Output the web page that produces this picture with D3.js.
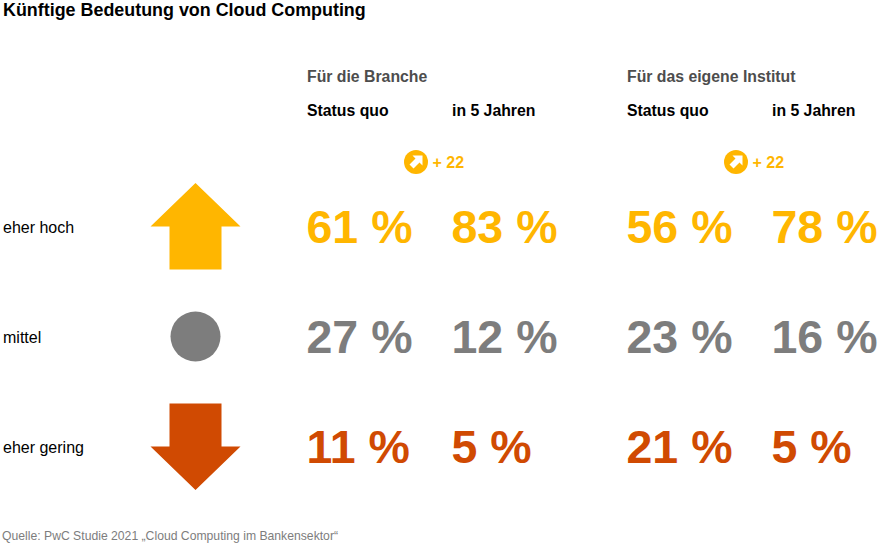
<!DOCTYPE html>
<html lang="de">
<head>
<meta charset="UTF-8">
<script src="https://d3js.org/d3.v7.min.js"></script>
<title>Künftige Bedeutung von Cloud Computing</title>
<style>
  html, body { margin: 0; padding: 0; background: #fff; }
  text { font-family: "Liberation Sans", Arial, sans-serif; }
</style>
</head>
<body>
<svg id="chart" width="885" height="544"></svg>
<script>
const title = "Künftige Bedeutung von Cloud Computing";
const source = "Quelle: PwC Studie 2021 „Cloud Computing im Bankensektor“";
const groups = ["Für die Branche", "Für das eigene Institut"];
const periods = ["Status quo", "in 5 Jahren"];
const levels = ["eher hoch", "mittel", "eher gering"];
const levelIcons = ["up", "circle", "down"];
const levelColors = ["#ffb600", "#7d7d7d", "#d04a02"];
const brancheValues = [[61, 83], [27, 12], [11, 5]];
const institutValues = [[56, 78], [23, 16], [21, 5]];
const deltas = ["+ 22", "+ 22"];
const allValues = [brancheValues, institutValues];

const svg = d3.select("#chart");

// positions
const groupX = d3.scaleOrdinal().domain(groups).range([307, 627]);
const periodX = d3.scaleOrdinal().domain(periods).range([0, 145]);
const rowY = d3.scaleOrdinal().domain(levels).range([227, 337, 447]);

svg.append("text").attr("x", 3).attr("y", 16)
  .attr("font-size", 17.9).attr("font-weight", "bold").attr("fill", "#000")
  .text(title);

groups.forEach((g, gi) => {
  const x0 = groupX(g);
  svg.append("text").attr("x", x0).attr("y", 81.5)
    .attr("font-size", 15.8).attr("font-weight", "bold").attr("fill", "#4d4d4d")
    .text(g);

  periods.forEach(p => {
    svg.append("text").attr("x", x0 + periodX(p)).attr("y", 115.5)
      .attr("font-size", 15.8).attr("font-weight", "bold").attr("fill", "#000")
      .text(p);
  });

  // small arrow badge, points up and to the right
  const badge = svg.append("g").attr("transform", `translate(${x0 + 109},162)`);
  badge.append("circle").attr("r", 12).attr("fill", levelColors[0]);
  badge.append("path")
    .attr("d", "M6.5,-6.5 L6.5,3.5 L3.5,0.5 L-2.5,6.5 L-6.5,2.5 L-0.5,-3.5 L-3.5,-6.5 Z")
    .attr("fill", "#fff");
  svg.append("text").attr("x", x0 + 125.5).attr("y", 167.5)
    .attr("font-size", 16).attr("font-weight", "bold").attr("fill", levelColors[0])
    .text(deltas[gi]);

  levels.forEach((lv, li) => {
    periods.forEach((p, pi) => {
      svg.append("text").attr("x", x0 + periodX(p) - 0.5).attr("y", rowY(lv) + 16)
        .attr("font-size", 46.5).attr("font-weight", "bold").attr("fill", levelColors[li])
        .text(allValues[gi][li][pi] + " %");
    });
  });
});

levels.forEach((lv, li) => {
  const y = rowY(lv);
  svg.append("text").attr("x", 3).attr("y", y + 5.5)
    .attr("font-size", 16).attr("fill", "#000").text(lv);

  const icon = svg.append("g").attr("transform", `translate(195.5,${y - 0.5})`);
  if (levelIcons[li] === "circle") {
    icon.append("circle").attr("r", 25).attr("fill", levelColors[li]);
  } else {
    const s = levelIcons[li] === "up" ? 1 : -1;
    icon.append("path")
      .attr("transform", `scale(1,${s})`)
      .attr("d", "M0,-43.5 L45,0 L26,0 L26,43 L-26,43 L-26,0 L-45,0 Z")
      .attr("fill", levelColors[li]);
  }
});

svg.append("text").attr("x", 2).attr("y", 540)
  .attr("font-size", 12.2).attr("fill", "#7d7d7d").text(source);
</script>
</body>
</html>
